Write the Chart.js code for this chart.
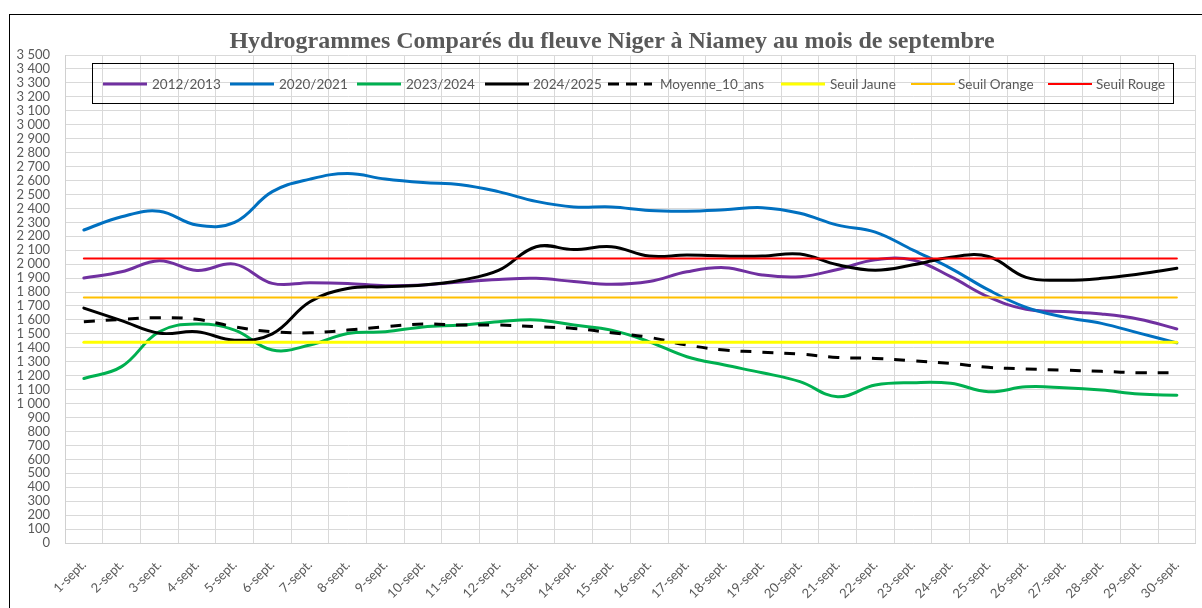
<!DOCTYPE html>
<html>
<head>
<meta charset="UTF-8">
<title>hydrogrammes.html</title>
<style>
body{
	margin: 0;
	width: 1202px;
	height: 608px;
	overflow: hidden;
	position: relative;
	background-color: #ffffff;
	font-family: Lato, 'Open Sans', sans-serif;
}
#graphe{
	position: absolute;
	left: 0;
	top: 0;
}
.cadre{
	position: absolute;
	left: 9px;
	top: 14px;
	width: 1400px;
	height: 800px;
	border: 1px solid #000;
}
#titre{
	position: absolute;
	left: 0;
	top: 28px;
	width: 1224px;
	text-align: center;
	font: bold 24px 'Liberation Serif', serif;
	line-height: 24px;
	color: #595959;
}
.legende{
	position: absolute;
	left: 92px;
	top: 63px;
	width: 1080px;
	height: 39px;
	border: 1px solid #000;
}
.trait{
	position: absolute;
	top: 82px;
}
.nom{
	position: absolute;
	top: 76px;
	font-size: 13.5px;
	line-height: 16px;
	color: #595959;
	white-space: nowrap;
}
</style>
</head>
<body>
<div class="cadre"></div>
<canvas id="graphe" width="1202" height="608"></canvas>
<div id="titre">Hydrogrammes Comparés du fleuve Niger à Niamey au mois de septembre</div>

<div class="legende"></div>
<!-- legende faite a la main (Excel la met dans la zone de traçage) -->
<svg class="trait" style="left:103px" width="44" height="4"><line x1="0" y1="2" x2="44" y2="2" stroke="#7030A0" stroke-width="3"/></svg>
<span class="nom" style="left:152px">2012/2013</span>
<svg class="trait" style="left:230px" width="44" height="4"><line x1="0" y1="2" x2="44" y2="2" stroke="#0070C0" stroke-width="3"/></svg>
<span class="nom" style="left:279px">2020/2021</span>
<svg class="trait" style="left:357px" width="44" height="4"><line x1="0" y1="2" x2="44" y2="2" stroke="#00B050" stroke-width="3"/></svg>
<span class="nom" style="left:406px">2023/2024</span>
<svg class="trait" style="left:485px" width="44" height="4"><line x1="0" y1="2" x2="44" y2="2" stroke="#000000" stroke-width="3"/></svg>
<span class="nom" style="left:533px">2024/2025</span>
<svg class="trait" style="left:608px" width="44" height="4"><line x1="0" y1="2" x2="44" y2="2" stroke="#000000" stroke-width="3" stroke-dasharray="11 7"/></svg>
<span class="nom" style="left:660px">Moyenne_10_ans</span>
<svg class="trait" style="left:781px" width="44" height="4"><line x1="0" y1="2" x2="44" y2="2" stroke="#FFFF00" stroke-width="3"/></svg>
<span class="nom" style="left:830px">Seuil Jaune</span>
<svg class="trait" style="left:911px" width="44" height="4"><line x1="0" y1="2" x2="44" y2="2" stroke="#FFC000" stroke-width="2"/></svg>
<span class="nom" style="left:958px">Seuil Orange</span>
<svg class="trait" style="left:1048px" width="44" height="4"><line x1="0" y1="2" x2="44" y2="2" stroke="#FF0000" stroke-width="2"/></svg>
<span class="nom" style="left:1096px">Seuil Rouge</span>

<script src="https://cdn.jsdelivr.net/npm/chart.js"></script>
<script>
// jours du mois de septembre
const jours = ['1-sept.','2-sept.','3-sept.','4-sept.','5-sept.','6-sept.','7-sept.','8-sept.','9-sept.','10-sept.',
	'11-sept.','12-sept.','13-sept.','14-sept.','15-sept.','16-sept.','17-sept.','18-sept.','19-sept.','20-sept.',
	'21-sept.','22-sept.','23-sept.','24-sept.','25-sept.','26-sept.','27-sept.','28-sept.','29-sept.','30-sept.'];

const annee2012 = [1900,1945,2025,1955,2000,1862,1867,1862,1845,1850,1872,1890,1898,1875,1855,
	1875,1945,1975,1922,1910,1962,2032,2030,1910,1765,1676,1660,1642,1605,1535];
const annee2020 = [2245,2340,2380,2280,2300,2520,2610,2650,2610,2585,2570,2520,2450,2410,2410,
	2385,2380,2390,2405,2365,2280,2230,2100,1970,1815,1690,1620,1575,1505,1435];
const annee2023 = [1180,1265,1515,1570,1527,1384,1420,1503,1515,1550,1563,1587,1600,1563,1527,
	1443,1336,1276,1221,1157,1049,1133,1150,1145,1085,1120,1114,1097,1068,1060];
const annee2024 = [1685,1595,1505,1515,1455,1500,1730,1825,1838,1850,1885,1955,2125,2105,2125,
	2058,2065,2058,2058,2072,1995,1957,1995,2050,2055,1905,1885,1898,1930,1970];
const moyenne10 = [1587,1604,1616,1604,1551,1515,1508,1527,1551,1570,1563,1563,1551,1539,1508,
	1475,1420,1384,1369,1355,1331,1324,1307,1288,1260,1248,1240,1231,1221,1221];
const seuilJaune = [1440,1440,1440,1440,1440,1440,1440,1440,1440,1440,1440,1440,1440,1440,1440,
	1440,1440,1440,1440,1440,1440,1440,1440,1440,1440,1440,1440,1440,1440,1440];
const seuilOrange = [1760,1760,1760,1760,1760,1760,1760,1760,1760,1760,1760,1760,1760,1760,1760,
	1760,1760,1760,1760,1760,1760,1760,1760,1760,1760,1760,1760,1760,1760,1760];
const seuilRouge = [2040,2040,2040,2040,2040,2040,2040,2040,2040,2040,2040,2040,2040,2040,2040,
	2040,2040,2040,2040,2040,2040,2040,2040,2040,2040,2040,2040,2040,2040,2040];

function milliers(v){
	return String(v).replace(/\B(?=(\d{3})+(?!\d))/g, ' ');
}

function serie(label, data, couleur, largeur, ordre){
	return {label: label, data: data, borderColor: couleur, backgroundColor: couleur,
		borderWidth: largeur, order: ordre, fill: false};
}

let datasets = [
	serie('2012/2013', annee2012, '#7030A0', 3, 8),
	serie('2020/2021', annee2020, '#0070C0', 3, 7),
	serie('2023/2024', annee2023, '#00B050', 3, 6),
	serie('2024/2025', annee2024, '#000000', 3, 5),
	serie('Moyenne_10_ans', moyenne10, '#000000', 3, 4),
	serie('Seuil Jaune', seuilJaune, '#FFFF00', 3, 3),
	serie('Seuil Orange', seuilOrange, '#FFC000', 2, 2),
	serie('Seuil Rouge', seuilRouge, '#FF0000', 2, 1)
];
datasets[4].borderDash = [11, 11];
datasets[4].borderCapStyle = 'butt';

let ctx = document.getElementById('graphe').getContext('2d');
let chart = new Chart(ctx, {
	type: 'line',
	data: {labels: jours, datasets: datasets},
	options: {
		responsive: false,
		animation: false,
		devicePixelRatio: 1,
		layout: {padding: {top: 55, right: 6, left: 0, bottom: 0}},
		elements: {
			point: {radius: 0},
			line: {tension: 0.4, borderCapStyle: 'round', borderJoinStyle: 'round'}
		},
		plugins: {legend: {display: false}, tooltip: {enabled: false}},
		scales: {
			x: {
				offset: true,
				grid: {offset: true, color: '#d9d9d9', drawTicks: false},
				border: {color: '#d0d0d0'},
				ticks: {color: '#595959', font: {family: 'Lato', size: 13}, maxRotation: 45, minRotation: 45, autoSkip: false, padding: 14},
				afterFit: function(s){ s.height = 65; }
			},
			y: {
				min: 0, max: 3500,
				grid: {color: '#d9d9d9', drawTicks: false},
				border: {color: '#d0d0d0'},
				ticks: {stepSize: 100, autoSkip: false, color: '#595959', font: {family: 'Lato', size: 13}, padding: 15,
					callback: function(v){ return milliers(v); }},
				afterFit: function(s){ s.width = 65; }
			}
		}
	}
});
</script>
</body>
</html>
